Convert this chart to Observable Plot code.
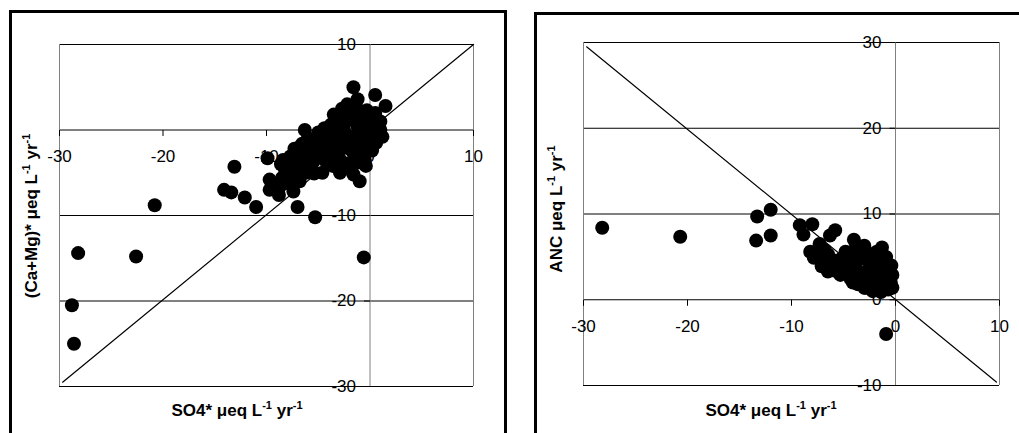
<!DOCTYPE html>
<html><head><meta charset="utf-8">
<script src="https://cdn.jsdelivr.net/npm/d3@7"></script>
<script src="https://cdn.jsdelivr.net/npm/@observablehq/plot@0.6"></script>
<style>
html,body{margin:0;padding:0;background:#fff;width:1019px;height:433px;overflow:hidden;}
body{position:relative;font-family:"Liberation Sans",Arial,sans-serif;}
.panel{position:absolute;top:0;}
.box{position:absolute;border:3px solid #000;pointer-events:none;}
</style></head><body>
<div id="left" class="panel" style="left:0"></div>
<div id="right" class="panel" style="left:510px"></div>
<div class="box" style="left:9px;top:10px;width:492px;height:500px"></div>
<div class="box" style="left:534px;top:12px;width:600px;height:500px"></div>
<script>
// ---- data ----
const xTicks = [-30, -20, -10, 0, 10];
const leftYTicks = [10, 0, -10, -20, -30];
const rightYTicks = [30, 20, 10, 0, -10];

const leftX = [-28.8,-28.6,-28.2,-22.6,-20.8,-14.1,-13.4,-13.1,-12.1,-11.0,-9.9,-9.7,-9.7,-8.8,-7.4,-7.0,-5.3,-0.6,-1.0,-1.6,-1.2,0.5,1.5,-2.7,
  -8.1,-8.0,-7.9,-7.7,-6.7,-6.3,-5.7,-5.4,-3.8,-2.2,-6.55,-8.2,-6.9,-5.4,-5.4,-4.5,-3.5,-1.9,-0.9,0.0,1.0,0.7,-0.3,-2.9,-2.5,-3.2,-4.1,-5.1,-6.1,-7.4,-8.4,
  -1.9,-1.2,-0.6,0.0,0.3,-2.2,-1.6,-3.0,-3.8,-4.8,-0.5,-1.5,-2.5,-1.0,0.5,-2.0,0.8,-4.5,-6.0,-7.0,-3.0,-1.2,-0.2,-2.2,
  -3.5,-1.3,0.2,1.0,-2.4,-5.0,-4.4,-3.3,-0.8,0.4,1.2,-6.0,-5.0,-2.9,-1.0,0.6,
  -7.3,-6.4,-5.6,-4.0,-3.6,-2.0,-0.6,0.2,-8.6,-7.4,-6.6,-4.2,-3.6,-2.8,-1.8,-0.4,-8.5,-7.6,-6.2,-4.6,-2.9,-1.6,-8.7,-6.8];
const leftY = [-20.5,-25.0,-14.4,-14.8,-8.8,-7.0,-7.3,-4.3,-7.9,-9.0,-3.3,-5.8,-7.0,-7.6,-7.2,-9.0,-10.2,-14.9,-6.0,5.0,3.6,4.1,2.8,2.5,
  -4.3,-6.2,-3.5,-3.1,-1.9,0.0,-1.2,-5.1,0.6,-4.5,-1.6,-4.7,-5.5,-4.9,-3.6,-1.6,-3.1,-0.8,-1.9,-1.6,0.0,1.2,2.3,0.4,-1.9,-0.8,-0.8,-2.3,-2.7,-3.1,-3.5,
  1.2,0.4,1.2,0.4,-0.8,-1.6,-2.7,1.6,-1.2,-3.1,-3.5,-1.0,0.0,2.0,2.0,2.0,-0.3,-2.5,-4.0,-4.5,-2.5,-3.8,-0.5,3.0,
  1.8,2.6,1.6,1.0,1.0,-0.3,0.2,-0.2,-0.4,0.2,-0.8,-1.0,-1.5,-1.3,-1.0,-1.5,
  -2.2,-3.2,-2.0,-2.2,-1.9,-2.2,-2.6,-2.4,-4.0,-4.0,-3.8,-3.8,-4.2,-3.6,-3.8,-4.2,-5.6,-5.2,-5.0,-5.0,-5.0,-5.2,-6.6,-6.0];

const rightX = [-28.2,-20.7,-13.3,-13.4,-12.0,-12.0,-9.2,-8.85,-8.0,-8.2,-7.3,-7.1,-6.3,-5.8,-4.0,-3.0,-1.3,-0.9,-0.6,-0.9,-0.45,-4.1,-3.0,-6.2,-4.9,
  -7.85,-6.6,-5.5,-4.3,-3.7,-2.4,-2.1,-2.7,-1.7,-1.1,-0.6,-4.6,-5.9,-2.9,-3.5,-1.5,-2.0,-3.2,-1.0,-0.5,-2.4,-3.8,-5.0,-6.8,-7.5,
  -7.0,-6.5,-6.0,-5.2,-4.8,-3.9,-2.6,-1.8,-1.2,-0.4,-0.3,-0.7,-1.4,-2.2,-3.6,-4.3,-5.3,-6.5,-7.0,-3.1,-4.5,-2.0,-1.2,-3.3,-2.6,-0.3];
const rightY = [8.4,7.35,9.7,6.9,10.5,7.5,8.7,7.6,8.8,5.6,6.5,3.9,7.5,8.1,7.0,6.3,6.1,5.0,3.4,-4.0,2.0,2.0,1.4,3.8,3.4,
  4.9,4.9,4.4,5.3,4.5,4.2,2.6,3.4,1.5,1.5,2.2,3.0,3.4,1.4,2.5,3.0,5.0,5.5,2.8,1.5,2.0,3.5,4.0,5.8,5.2,
  5.8,5.3,4.6,4.8,5.6,5.9,5.4,5.6,4.2,4.0,2.9,1.2,0.9,1.0,1.8,2.4,2.9,3.3,4.4,4.8,4.0,3.6,2.2,2.9,2.2,1.4];

const leftLineX = [-29.7, 10];
const leftLineY = [-29.5, 10];
const rightLineX = [-29.7, 9.7];
const rightLineY = [29.5, -9.6];

const leftYTitle = ["(Ca+Mg)* \u03bceq L", "-1", " yr", "-1"];
const rightYTitle = ["ANC \u03bceq L", "-1", " yr", "-1"];
const xTitle = ["SO4* \u03bceq L", "-1", " yr", "-1"];

// ---- drawing ----
const FONT = "Liberation Sans, Arial, sans-serif";
const tickDown = {draw(c){ c.moveTo(0,0); c.lineTo(0,6); }};
const tickLeft = {draw(c){ c.moveTo(0,0); c.lineTo(-6,0); }};

function panel({xs, ys, yTicks, lineX, lineY, width, height, margins}) {
  const pts = xs.map((x, i) => ({x, y: ys[i]}));
  const line = lineX.map((x, i) => ({x, y: lineY[i]}));
  const xEnds = [xTicks[0], xTicks[xTicks.length - 1]];
  return Plot.plot({
    width, height, ...margins,
    x: {domain: xEnds, axis: null},
    y: {domain: [d3.min(yTicks), d3.max(yTicks)], axis: null},
    style: {fontFamily: FONT, fontSize: "17px", background: "transparent", overflow: "visible"},
    marks: [
      Plot.ruleY(yTicks, {stroke: "black", strokeWidth: 1}),
      Plot.ruleX([...xEnds, 0], {stroke: "#808080", strokeWidth: 1}),
      Plot.dot(xTicks, {x: d => d, y: () => 0, symbol: tickDown, stroke: "black", fill: "none", strokeWidth: 1}),
      Plot.dot(yTicks, {x: () => 0, y: d => d, symbol: tickLeft, stroke: "black", fill: "none", strokeWidth: 1}),
      Plot.text(xTicks, {x: d => d, y: () => 0, text: d => String(d), dy: 27, lineAnchor: "middle", fill: "black", fontSize: 17}),
      Plot.text(yTicks, {x: () => 0, y: d => d, text: d => String(d), dx: -14, textAnchor: "end", lineAnchor: "middle", fill: "black", fontSize: 17}),
      Plot.dot(pts, {x: "x", y: "y", r: 7, fill: "black", stroke: "none"}),
      Plot.line(line, {x: "x", y: "y", stroke: "black", strokeWidth: 1.2})
    ]
  });
}

function addTitle(svg, parts, x, y, rotate) {
  const t = d3.select(svg).append("text")
    .attr("font-family", FONT).attr("font-weight", "bold").attr("font-size", 17)
    .attr("fill", "black").attr("text-anchor", "middle").style("white-space", "pre")
    .attr("transform", `translate(${x},${y}) rotate(${rotate})`);
  parts.forEach((s, i) => {
    const sup = i % 2 === 1;
    t.append("tspan")
      .attr("font-size", sup ? 11 : 17)
      .attr("dy", sup ? -7 : (i > 0 ? 7 : 0))
      .text(s);
  });
}

const left = panel({xs: leftX, ys: leftY, yTicks: leftYTicks, lineX: leftLineX, lineY: leftLineY,
  width: 510, height: 433, margins: {marginLeft: 59, marginRight: 37, marginTop: 44, marginBottom: 47}});
addTitle(left, xTitle, 237, 416, 0);
addTitle(left, leftYTitle, 37, 216, -90);
document.getElementById("left").appendChild(left);

const right = panel({xs: rightX, ys: rightY, yTicks: rightYTicks, lineX: rightLineX, lineY: rightLineY,
  width: 509, height: 433, margins: {marginLeft: 73, marginRight: 20, marginTop: 42, marginBottom: 48}});
addTitle(right, xTitle, 261, 416, 0);
addTitle(right, rightYTitle, 52, 209, -90);
document.getElementById("right").appendChild(right);
</script>
</body></html>
